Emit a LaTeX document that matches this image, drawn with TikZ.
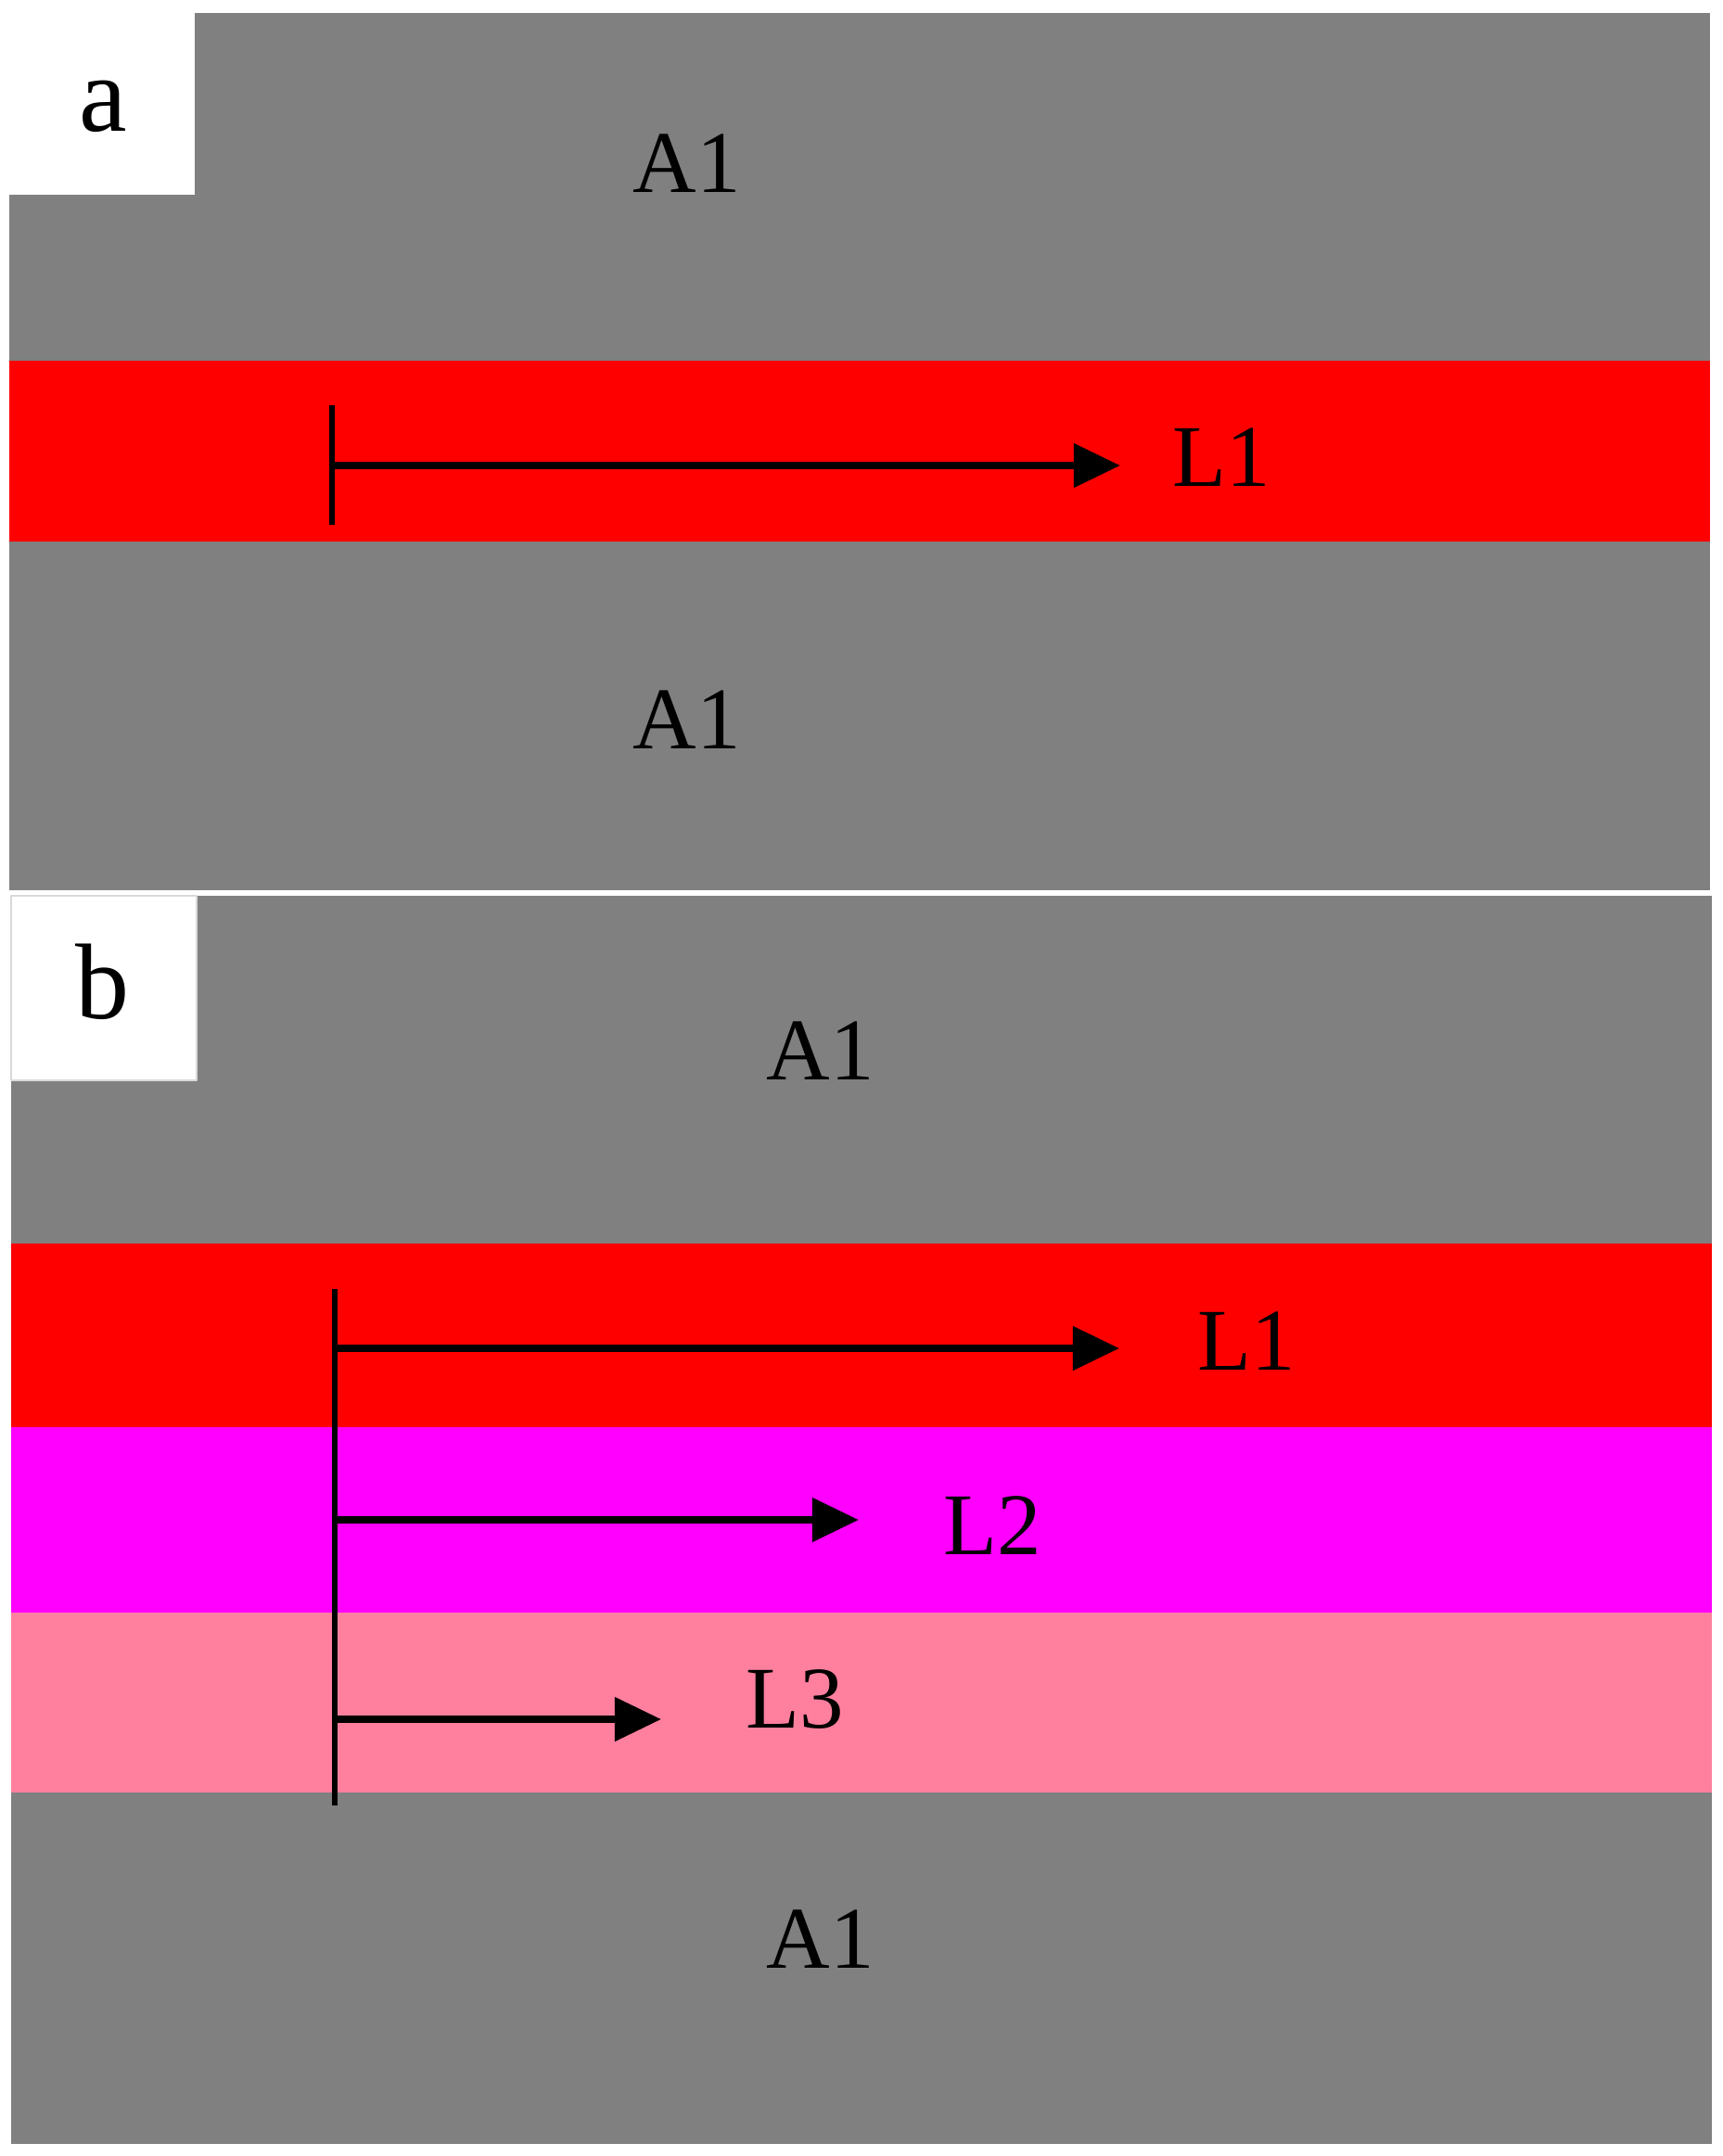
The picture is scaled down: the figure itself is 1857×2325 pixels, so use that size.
\documentclass[tikz,border=0pt]{standalone}
\usepackage{fontspec}
\setmainfont{Liberation Serif}
\usetikzlibrary{arrows.meta}
\definecolor{layergray}{RGB}{128,128,128}
\definecolor{layerred}{RGB}{255,0,0}
\definecolor{layermagenta}{RGB}{255,0,255}
\definecolor{layerpink}{RGB}{255,128,158}
\tikzset{
  lbl/.style={inner sep=0pt, font=\fontsize{27}{30}\selectfont},
  panellbl/.style={inner sep=0pt, font=\fontsize{33}{36}\selectfont},
  tagbox/.style={fill=white, draw=black!15, line width=0.4pt},
  bar/.style={line width=1.5pt},
  flow/.style={line width=2.2pt, -{Triangle[length=0.5cm,width=0.46cm]}},
}
\begin{document}
\begin{tikzpicture}[x=0.01cm, y=-0.01cm, line join=round]
  \useasboundingbox (0,0) rectangle (1857,2325);
  % panel a
  \fill[layergray] (10,14) rectangle (1844,960);
  \fill[layerred] (10,389) rectangle (1844,584);
  \fill[white] (10,0) rectangle (210,210);
  \node[panellbl] (taga) at (111,115) {a};
  \node[lbl] (A1top) at (741,176) {A1};
  \node[lbl] (A1bot) at (741,776) {A1};
  \node[lbl] (L1a) at (1317,493) {L1};
  \coordinate (barAtop) at (358,437);
  \coordinate (barAbot) at (358,566);
  \draw[bar] (barAtop) -- (barAbot);
  \coordinate (baseA) at (358,502);
  \coordinate (tipA) at (1208,502);
  \draw[flow] (baseA) -- (tipA);
  % panel b
  \fill[layergray] (12,966) rectangle (1846,2312);
  \foreach \c/\ya/\yb in {layerred/1341/1539, layermagenta/1539/1739, layerpink/1739/1933}
    \fill[\c] (12,\ya) rectangle (1846,\yb);
  \draw[tagbox] (12,966) rectangle (212,1165);
  \node[panellbl] (tagb) at (111,1059) {b};
  \node[lbl] (A1topb) at (885,1133) {A1};
  \node[lbl] (A1botb) at (885,2091) {A1};
  \coordinate (barBtop) at (361,1390);
  \coordinate (barBbot) at (361,1947);
  \draw[bar] (barBtop) -- (barBbot);
  \foreach \y/\t/\n/\lx in {1454/1207/1/1344, 1639/926/2/1070, 1854/713/3/857}{
    \coordinate (baseB\n) at (361,\y);
    \coordinate (tipB\n) at (\t,\y);
    \draw[flow] (baseB\n) -- (tipB\n);
  }
  \node[lbl] (L1b) at (1344,1446) {L1};
  \node[lbl] (L2b) at (1070,1645) {L2};
  \node[lbl] (L3b) at (857,1833) {L3};
\end{tikzpicture}
\end{document}
